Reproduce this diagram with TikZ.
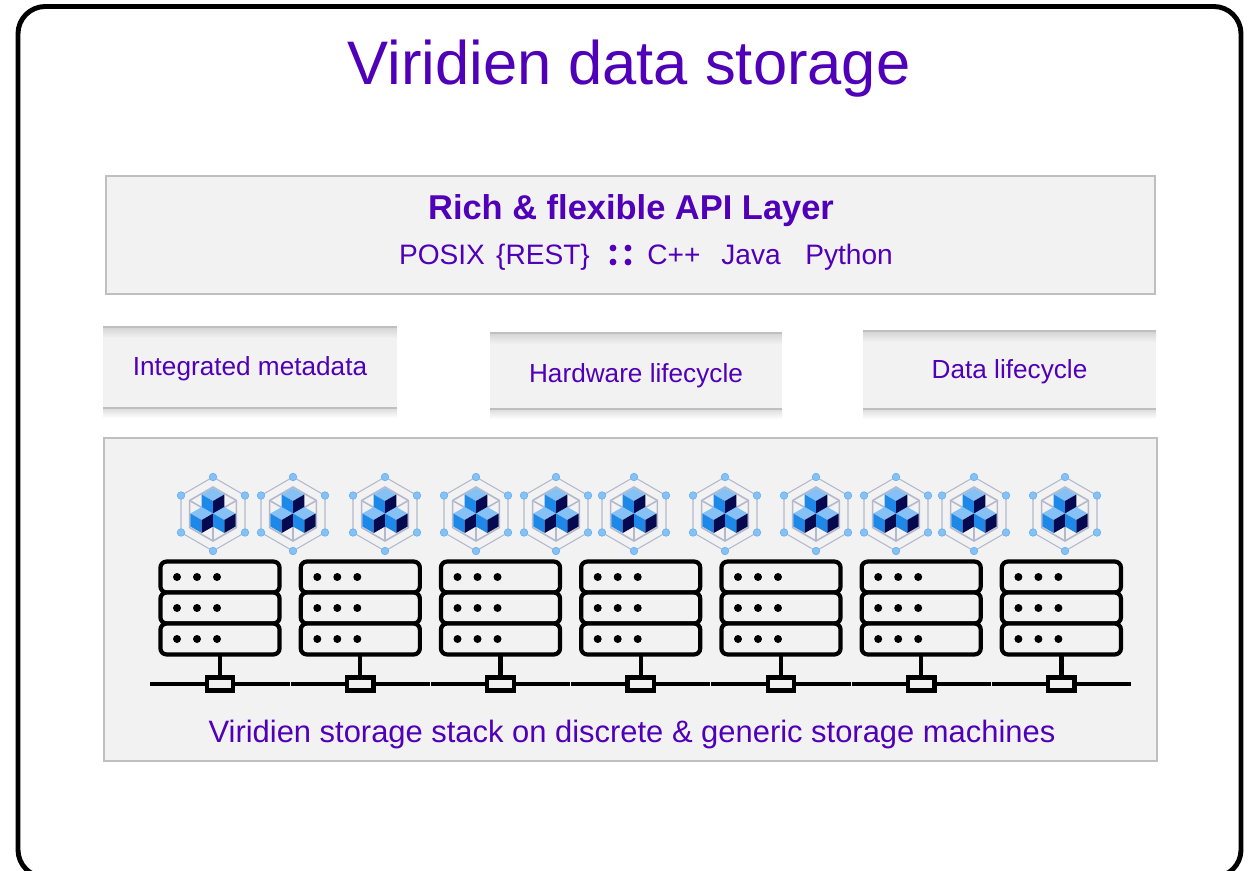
\documentclass[tikz,border=0pt]{standalone}
\usepackage{fontspec}
\setmainfont{Liberation Sans}
\usetikzlibrary{positioning}

\definecolor{viridien}{HTML}{5000B8}
\definecolor{panelfill}{HTML}{F2F2F2}
\definecolor{panelline}{HTML}{BFBFBF}
\definecolor{cubetop}{HTML}{85C1F5}
\definecolor{cubeleft}{HTML}{1E88E8}
\definecolor{cuberight}{HTML}{050A50}
\definecolor{hexline}{HTML}{B4B8CC}

\newcommand{\stackcube}[2]{%
  \fill[cubetop] (#1,#2-13) -- (#1+11.3,#2-6.5) -- (#1,#2) -- (#1-11.3,#2-6.5) -- cycle;
  \fill[cubeleft] (#1,#2) -- (#1-11.3,#2-6.5) -- (#1-11.3,#2+6.5) -- (#1,#2+13) -- cycle;
  \fill[cuberight] (#1,#2) -- (#1+11.3,#2-6.5) -- (#1+11.3,#2+6.5) -- (#1,#2+13) -- cycle;
}

\tikzset{
  panel/.style={draw=panelline, fill=panelfill, line width=1.1pt},
  title/.style={text=viridien, font=\fontsize{35}{40}\selectfont},
  heading/.style={text=viridien, font=\fontsize{19.6}{23}\selectfont\bfseries},
  apitext/.style={text=viridien, font=\fontsize{16}{20}\selectfont},
  stacktext/.style={text=viridien, font=\fontsize{17.6}{21}\selectfont},
  sidetext/.style={text=viridien, font=\fontsize{14.9}{18}\selectfont},
  rackrow/.style={draw=black, line width=2.4pt, rounded corners=3.5pt, fill=panelfill,
    minimum width=67.8pt, minimum height=17.6pt, inner sep=0pt, outer sep=0pt},
  netbox/.style={draw=black, line width=2.4pt, fill=panelfill,
    minimum width=15pt, minimum height=7.5pt, inner sep=0pt, outer sep=0pt},
  wire/.style={draw=black, line width=2.4pt},
  stackicon/.pic={
    % hexagons
    \draw[hexline, line width=0.6pt] (0,-37) -- (32,-18.5) -- (32,18.5) -- (0,37)
      -- (-32,18.5) -- (-32,-18.5) -- cycle;
    \draw[hexline, line width=0.9pt] (0,-27) -- (23.4,-13.5) -- (23.4,13.5) -- (0,27)
      -- (-23.4,13.5) -- (-23.4,-13.5) -- cycle;
    \draw[hexline, line width=0.9pt] (-23.4,-13.5) -- (0,0) -- (23.4,-13.5) (0,0) -- (0,27);
    % cubes
    \stackcube{0}{-13}
    \stackcube{-11.3}{6}
    \stackcube{11.3}{6}
    % corner dots
    \foreach \a/\b in {0/-37,32/-18.5,32/18.5,0/37,-32/18.5,-32/-18.5}
      \draw[draw=cubeleft!70, fill=cubetop, line width=0.3pt] (\a,\b) circle (3.8);
  },
}

\begin{document}
\begin{tikzpicture}[x=0.02cm, y=-0.02cm]
  \useasboundingbox (0,0) rectangle (1253,871);
  \clip (0,0) rectangle (1253,871);

  % Outer frame, runs off the bottom edge
  \draw[black, line width=2.8pt, rounded corners=15.5pt] (18,6.5) rectangle (1241,877);

  \node[title] (heading) at (629,69) {Viridien data storage};

  % API layer
  \draw[panel] (106,176) rectangle (1155,294);
  \node[heading] (api) at (631,211) {Rich \& flexible API Layer};
  \node[apitext, anchor=base] (posix) at (442,265) {POSIX};
  \node[apitext, anchor=base] (rest) at (543,265) {\{REST\}};
  \node[apitext, anchor=base] (cpp) at (674,265) {C++};
  \node[apitext, anchor=base] (java) at (751,265) {Java};
  \node[apitext, anchor=base] (python) at (849,265) {Python};
  \foreach \a/\b in {613/248,628/248,613/262,628/262}
    \fill[viridien] (\a,\b) circle (3.4);

  % Middle strips
  \foreach \l/\r/\t/\b/\ty/\name/\txt in {
    103/397/327/408/369/meta/Integrated metadata,
    490/782/333/409/376/hardware/Hardware lifecycle,
    863/1156/331/409/372/datalife/Data lifecycle}
  {
    \fill[panelfill] (\l,\t) rectangle (\r,\b);
    \shade[top color=black!17, bottom color=panelfill] (\l,\t) rectangle (\r,\t+11);
    \shade[top color=black!14, bottom color=white] (\l,\b) rectangle (\r,\b+10);
    \draw[panelline, line width=1.5pt] (\l,\t) -- (\r,\t);
    \draw[panelline, line width=1.5pt] (\l,\b) -- (\r,\b);
    \node[sidetext] (\name) at ({(\l+\r)/2},\ty) {\txt};
  }

  % Storage panel
  \draw[panel] (104,438) rectangle (1157,761);
  \node[stacktext] (stack) at (632,734) {Viridien storage stack on discrete \& generic storage machines};

  % Software icons
  \foreach \x in {213,293,385,476,556,634,725,816,896,974,1065}
    \pic at (\x,514) {stackicon};

  % Racks, each on its own piece of the network line
  \foreach \x [count=\i] in {220,360.3,500.5,640.7,781,921.2,1061.4}
  {
    \node[rackrow] (rack\i c) at (\x,577) {};
    \node[rackrow] (rack\i b) at (\x,608) {};
    \node[rackrow] (rack\i a) at (\x,639) {};
    \foreach \y in {577,608,639}
      \foreach \d in {-43,-23,-3}
        \fill[black] ({\x+\d},\y) circle (4);
    \node[netbox] (net\i) at (\x,684) {};
    \coordinate (busl\i) at ({\x-69.6},684);
    \coordinate (busr\i) at ({\x+69.6},684);
    \draw[wire] (rack\i a) -- (net\i);
    \draw[wire] (busl\i) -- (net\i);
    \draw[wire] (net\i) -- (busr\i);
  }
\end{tikzpicture}
\end{document}
